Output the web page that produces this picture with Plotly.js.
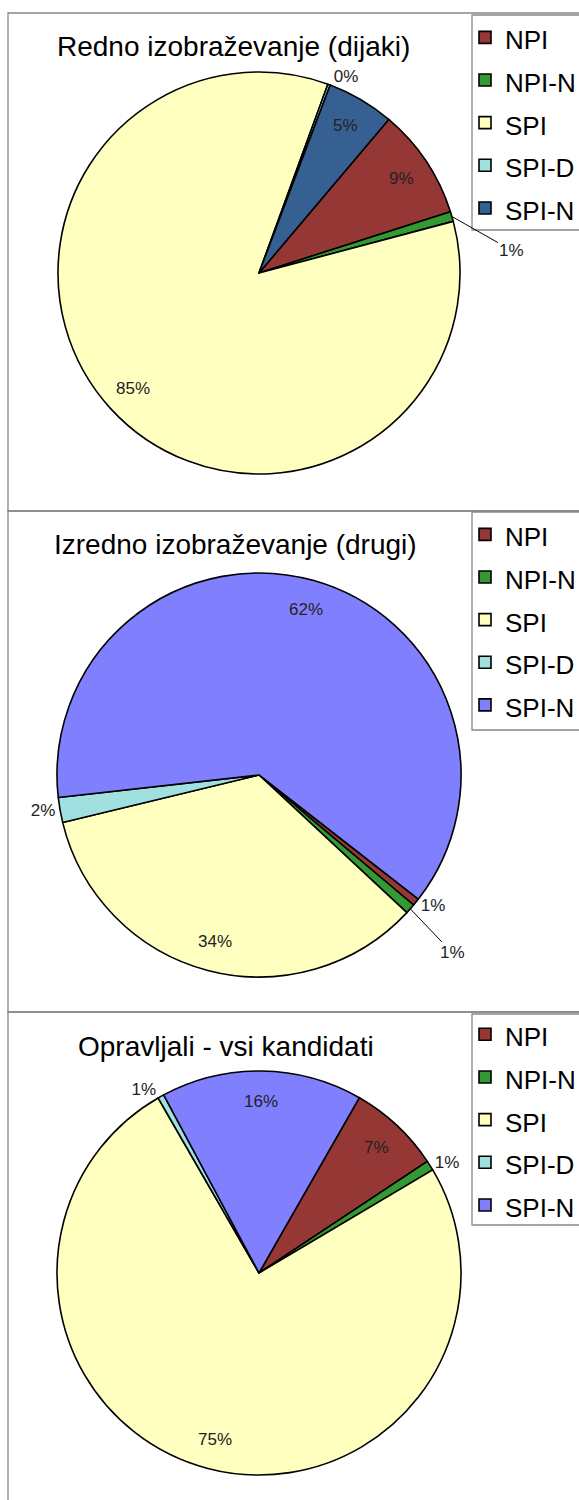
<!DOCTYPE html>
<html>
<head>
<meta charset="utf-8">
<script src="https://cdn.plot.ly/plotly-3.0.1.min.js"></script>
<style>
  html, body { margin: 0; padding: 0; background: #fff; }
  #chart { width: 579px; height: 1500px; }
</style>
</head>
<body>
<div id="chart"></div>
<script>
// kategorije (enake za vse tri grafe)
const categories = ['NPI', 'NPI-N', 'SPI', 'SPI-D', 'SPI-N'];

// deleži v %, odčitani s slike
const rednoValues = [8.9, 0.8, 84.7, 0.2, 5.4];
const izrednoValues = [0.6, 0.8, 34.3, 2.0, 62.3];
const vsiValues = [7.4, 0.8, 75.2, 0.5, 16.1];

const titles = [
    'Redno izobraževanje (dijaki)',
    'Izredno izobraževanje (drugi)',
    'Opravljali - vsi kandidati'
];

const colorsRedno = ['#953735', '#339933', '#ffffc0', '#a0e0e0', '#366092'];
const colorsOther = ['#953735', '#339933', '#ffffc0', '#a0e0e0', '#8080ff'];

const W = 579, H = 1500;
const FONT = 'Liberation Sans, Arial, sans-serif';

const px = v => v / W;
const py = v => 1 - v / H;

// postavitev posameznega grafa (središče, polmer, začetni kot)
// label: 'in' = v rezini, 'out' = plotly zunaj, [ax, ay] = zunaj s povezovalno črto
const pies = [
    { values: rednoValues, colors: colorsRedno, cx: 259, cy: 273, r: 201, rot: 40.2,
      label: ['in', [60, 34], 'in', 'out', 'in'], panel: [13, 511], legendTop: 15, legendBottom: 230, firstItem: 37 },
    { values: izrednoValues, colors: colorsOther, cx: 259, cy: 775, r: 202, rot: 127.9,
      label: ['out', [42, 44], 'in', 'out', 'in'], panel: [511, 1012], legendTop: 512, legendBottom: 730, firstItem: 534 },
    { values: vsiValues, colors: colorsOther, cx: 259, cy: 1273, r: 202, rot: 29.8,
      label: ['in', 'out', 'in', 'out', 'in'], panel: [1012, 1510], legendTop: 1014, legendBottom: 1225, firstItem: 1034 }
];

const legendIds = ['legend', 'legend2', 'legend3'];

const data = pies.map((p, k) => ({
    type: 'pie',
    labels: categories.map(c => '<span style="font-size:26px">' + c + '</span>'),
    values: p.values,
    sort: false,
    direction: 'clockwise',
    rotation: p.rot,
    marker: { colors: p.colors, line: { color: '#000', width: 1.6 } },
    texttemplate: '%{percent:.0%}',
    textposition: p.label.map(v => v === 'out' ? 'outside' : 'none'),
    outsidetextfont: { family: FONT, size: 17, color: '#222' },
    hoverinfo: 'none',
    legend: legendIds[k],
    legendgroup: 'g' + k,
    domain: {
        x: [px(p.cx - p.r), px(p.cx + p.r)],
        y: [py(p.cy + p.r), py(p.cy - p.r)]
    }
}));

// oznake: v rezini na simetrali (~0.85 polmera) ali zunaj s črto od roba
const labelAnnotations = [];
pies.forEach(p => {
    const total = p.values.reduce((a, b) => a + b, 0);
    let cum = 0;
    p.values.forEach((v, i) => {
        const mid = (p.rot + (cum + v / 2) / total * 360) * Math.PI / 180;
        cum += v;
        const mode = p.label[i];
        if (mode === 'out') return;
        const f = mode === 'in' ? 0.85 : 1.0;
        const ann = {
            text: Math.round(v / total * 100) + '%',
            showarrow: false,
            xref: 'paper', yref: 'paper',
            x: px(p.cx + f * p.r * Math.sin(mid)),
            y: py(p.cy - f * p.r * Math.cos(mid)),
            xanchor: 'center', yanchor: 'middle',
            font: { family: FONT, size: 17, color: '#222' }
        };
        if (mode !== 'in') {
            Object.assign(ann, {
                showarrow: true, arrowhead: 0, arrowwidth: 1, arrowcolor: '#000',
                standoff: 0, ax: mode[0], ay: mode[1]
            });
        }
        labelAnnotations.push(ann);
    });
});

const titleCenters = [[233, 47], [235, 545], [226, 1046]];

const layout = {
    width: W,
    height: H,
    margin: { l: 0, r: 0, t: 0, b: 0, autoexpand: false },
    paper_bgcolor: '#fff',
    showlegend: true,
    shapes: [],
    annotations: titles.map((t, i) => ({
        text: t, showarrow: false,
        xref: 'paper', yref: 'paper',
        x: px(titleCenters[i][0]), y: py(titleCenters[i][1]),
        xanchor: 'center', yanchor: 'middle',
        font: { family: FONT, size: 28, color: '#000' }
    })).concat(labelAnnotations)
};

pies.forEach((p, k) => {
    layout[legendIds[k]] = {
        x: px(465), xanchor: 'left',
        y: py(p.firstItem - 26), yanchor: 'top',
        bgcolor: 'rgba(0,0,0,0)',
        borderwidth: 0,
        font: { family: FONT, size: 30.5, color: '#000' }
    };
    // okvir panela
    layout.shapes.push({
        type: 'rect', xref: 'paper', yref: 'paper', layer: 'below',
        x0: px(8), x1: 1.02, y0: py(p.panel[1]), y1: py(p.panel[0]),
        line: { color: '#888', width: 1.3 }
    });
    // okvir legende
    layout.shapes.push({
        type: 'rect', xref: 'paper', yref: 'paper', layer: 'below',
        x0: px(472), x1: 1.02, y0: py(p.legendBottom), y1: py(p.legendTop),
        fillcolor: '#fff',
        line: { color: '#888', width: 1.3 }
    });
});

Plotly.newPlot('chart', data, layout, { staticPlot: true });
</script>
</body>
</html>
